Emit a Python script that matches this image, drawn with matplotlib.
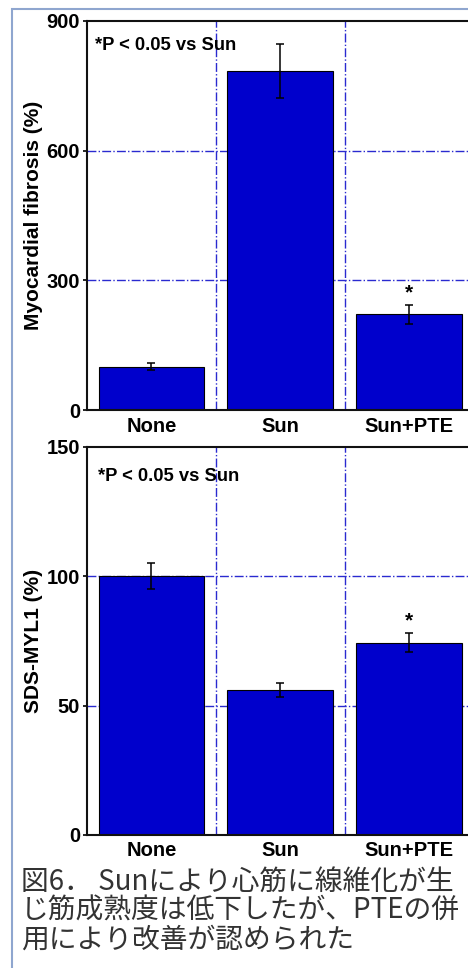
import matplotlib
matplotlib.use("Agg")
import matplotlib.pyplot as plt
from matplotlib.patches import Rectangle

categories = ["None", "Sun", "Sun+PTE"]
fibrosis = [100, 785, 221]
fibrosis_err = [8, 62, 21]
fibrosis_ticks = [0, 300, 600, 900]
myl1 = [100, 56, 74.4]
myl1_err = [5, 2.7, 3.8]
myl1_ticks = [0, 50, 100, 150]
note = "*P < 0.05 vs Sun"
caption_lines = ["図6． Sunにより心筋に線維化が生",
                 "じ筋成熟度は低下したが、PTEの併",
                 "用により改善が認められた"]

W, H = 468, 968
fig = plt.figure(figsize=(W / 100, H / 100), dpi=100)
fig.patch.set_facecolor("white")

plt.rcParams['font.family'] = ['Liberation Sans', 'DejaVu Sans']

# light blue frame
fig.patches.append(Rectangle((12 / W, -0.1), 1.2, 1.1 - 9 / H,
                             transform=fig.transFigure, fill=False,
                             edgecolor="#8fa6cf", linewidth=1.5, zorder=0))

bar_color = "#0000CC"
grid_color = "#2a2ad0"


def panel(rect, vals, errs, ticks, ylabel, note_xy, star_idx, xpad):
    ax = fig.add_axes(rect)
    x = list(range(len(categories)))
    ax.bar(x, vals, width=0.82, color=bar_color, edgecolor="black",
           linewidth=0.8, zorder=2)
    ax.errorbar(x, vals, yerr=errs, fmt="none", ecolor="black",
                elinewidth=1.1, capsize=3, capthick=1.1, zorder=3)
    ax.set_xlim(-0.5, len(categories) - 0.5)
    ax.set_ylim(ticks[0], ticks[-1])
    ax.set_yticks(ticks)
    ax.set_xticks(x)
    ax.set_xticklabels(categories, fontsize=14.5, fontweight="bold")
    ax.set_yticklabels([str(t) for t in ticks], fontsize=14.5,
                       fontweight="bold")
    ax.tick_params(axis="y", length=3, width=1.2, pad=2)
    ax.tick_params(axis="x", length=0, pad=xpad)
    for t in ticks[1:-1]:
        ax.axhline(t, color=grid_color, linestyle="-.", linewidth=1,
                   zorder=1)
    for xv in [0.5, 1.5]:
        ax.axvline(xv, color=grid_color, linestyle="-.", linewidth=1,
                   zorder=1)
    for s in ax.spines.values():
        s.set_linewidth(1.5)
        s.set_color("#111111")
    ax.set_ylabel(ylabel, fontsize=15, fontweight="bold")
    ax.yaxis.set_label_coords(-0.115, 0.5)
    ax.text(note_xy[0], note_xy[1], note, transform=ax.transAxes,
            fontsize=13.2, fontweight="bold", ha="left", va="center")
    ax.annotate("*", xy=(star_idx, vals[star_idx] + errs[star_idx]),
                xytext=(0, 2), textcoords="offset points", ha="center",
                va="bottom", fontsize=15, fontweight="bold")
    return ax


ax1 = panel([87 / W, 1 - 410 / H, 386.5 / W, 389 / H], fibrosis,
            fibrosis_err, fibrosis_ticks, "Myocardial fibrosis (%)",
            (0.021, 0.938), 2, 5)
ax2 = panel([87 / W, 1 - 835 / H, 386.5 / W, 388 / H], myl1, myl1_err,
            myl1_ticks, "SDS-MYL1 (%)", (0.028, 0.925), 2, 4)

for line, yc in zip(caption_lines, [882, 911, 940]):
    fig.text(21 / W, 1 - yc / H, line, fontsize=20, color="#333333",
             family=["Noto Sans CJK JP", "DejaVu Sans"], ha="left",
             va="center")

fig.savefig("out.png", dpi=100)
